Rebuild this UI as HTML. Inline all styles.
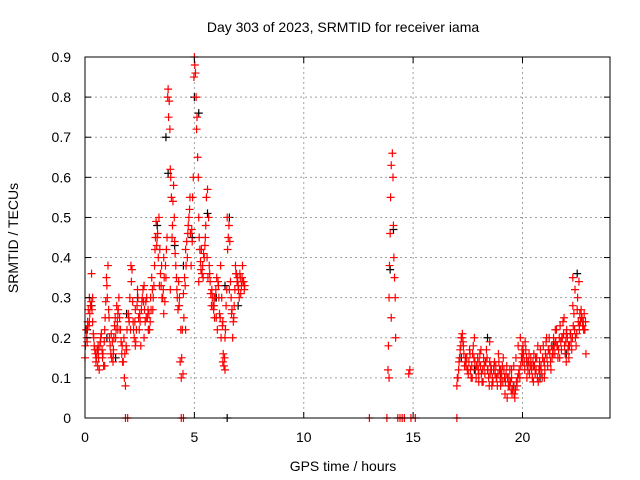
<!DOCTYPE html>
<html><head><meta charset="utf-8"><style>
body{margin:0;background:#fff;}
svg{display:block;font-family:"Liberation Sans",sans-serif;}
</style></head><body>
<svg id="chart" width="640" height="480" viewBox="0 0 640 480">
<rect width="640" height="480" fill="#fff"/>
<text x="343" y="32" font-size="14" text-anchor="middle">Day 303 of 2023, SRMTID for receiver iama</text>
<g id="grid"></g>
<g id="marks"></g>
<rect x="85" y="57" width="525" height="361" fill="none" stroke="#000" stroke-width="1"/>
<g id="axes"></g>
<text x="343" y="471" font-size="14" text-anchor="middle">GPS time / hours</text>
<text x="18" y="238" font-size="14" text-anchor="middle" transform="rotate(-90 18 238)">SRMTID / TECUs</text>
</svg>
<script>
const xTicks=[0,5,10,15,20];
const yTicks=[0,0.1,0.2,0.3,0.4,0.5,0.6,0.7,0.8,0.9];
const yTickLabels=["0","0.1","0.2","0.3","0.4","0.5","0.6","0.7","0.8","0.9"];
const blackT=[0.1,0.3,0.6,1.0,1.4,1.9,2.4,2.9,3.3,3.7,3.8,4.1,4.5,4.9,5.0,5.2,5.6,6.0,6.4,6.6,7.0,13.95,14.1,17.2,17.8,18.4,19.0,19.6,20.2,20.8,21.4,22.0,22.5,22.7,6.5];
const blackV=[0.22,0.28,0.17,0.2,0.15,0.26,0.3,0.22,0.48,0.7,0.61,0.43,0.38,0.45,0.8,0.76,0.51,0.3,0.33,0.5,0.28,0.37,0.47,0.15,0.12,0.2,0.1,0.08,0.14,0.1,0.18,0.16,0.36,0.25,0];
const redT=[0,0.05,0.1,0.15,0.2,0.25,0.3,0.35,0.4,0.45,0.5,0.6,0.65,0.7,0.75,0.8,0.85,0.9,1.0,1.05,1.1,1.15,1.2,1.3,1.35,1.4,1.45,1.5,1.6,1.7,1.75,1.8,1.85,1.9,2.0,2.05,2.1,2.2,2.25,2.3,2.4,2.5,2.55,2.6,2.7,2.8,2.9,3.0,3.05,3.1,3.2,3.25,3.3,3.35,3.4,3.5,3.55,3.6,3.7,3.75,3.8,3.85,3.9,3.95,4.0,4.05,4.1,4.15,4.2,4.3,4.35,4.4,4.45,4.5,4.55,4.6,4.7,4.75,4.8,4.85,4.9,4.95,5.0,5.05,5.1,5.15,5.2,5.25,5.3,5.4,5.45,5.5,5.6,5.65,5.7,5.8,5.85,5.9,6.0,6.05,6.1,6.2,6.25,6.3,6.4,6.45,6.5,6.55,6.6,6.7,6.75,6.8,6.9,7.0,7.05,7.1,7.2,7.25,7.3,
0.2,0.35,0.6,0.9,1.3,1.5,2.3,2.7,3.6,3.9,4.3,4.6,5.2,5.9,6.3,6.4,
13.85,13.87,13.9,13.92,13.95,13.97,14.0,14.05,14.08,14.1,14.12,14.15,14.18,14.2,14.8,14.85,13.9,14.0,
17.0,17.05,17.1,17.15,17.2,17.3,17.35,17.4,17.5,17.6,17.7,17.8,17.9,18.0,18.1,18.2,18.3,18.4,18.5,18.6,18.7,18.8,18.9,19.0,19.1,19.2,19.3,19.4,19.5,19.6,19.7,19.8,19.9,20.0,20.1,20.2,20.3,20.4,20.5,20.6,20.7,20.8,20.9,21.0,21.1,21.2,21.3,21.4,21.5,21.6,21.7,21.8,21.9,22.0,22.1,22.2,22.3,22.4,22.5,22.55,22.6,22.7,22.8,22.9,17.5,18.0,18.5,19.0,19.5,20.0,20.5,21.0,21.5,22.0,22.3,22.6,22.8,
1.85,1.95,4.4,4.5,13.0,13.8,14.3,14.4,14.5,14.6,14.9,15.1,17.0];
const redV=[0.15,0.22,0.19,0.27,0.3,0.28,0.36,0.24,0.2,0.17,0.14,0.16,0.12,0.19,0.21,0.15,0.13,0.22,0.33,0.38,0.25,0.18,0.21,0.16,0.23,0.2,0.28,0.26,0.22,0.18,0.14,0.1,0.08,0.17,0.25,0.3,0.38,0.24,0.2,0.27,0.32,0.26,0.18,0.29,0.33,0.25,0.22,0.3,0.35,0.27,0.42,0.49,0.45,0.4,0.33,0.38,0.3,0.26,0.35,0.45,0.82,0.79,0.62,0.55,0.48,0.58,0.44,0.38,0.32,0.28,0.14,0.1,0.22,0.31,0.35,0.42,0.46,0.5,0.55,0.38,0.44,0.6,0.9,0.86,0.72,0.65,0.5,0.42,0.37,0.35,0.4,0.45,0.57,0.5,0.36,0.32,0.28,0.3,0.25,0.22,0.33,0.38,0.3,0.14,0.12,0.28,0.5,0.45,0.32,0.26,0.2,0.25,0.36,0.33,0.3,0.35,0.38,0.34,0.33,
0.24,0.3,0.18,0.13,0.17,0.22,0.18,0.2,0.4,0.32,0.28,0.22,0.34,0.28,0.24,0.2,
0.12,0.18,0.3,0.38,0.46,0.55,0.63,0.66,0.6,0.48,0.4,0.35,0.3,0.2,0.11,0.12,0.1,0.25,
0.08,0.1,0.14,0.17,0.2,0.18,0.13,0.15,0.12,0.16,0.1,0.2,0.13,0.11,0.17,0.09,0.14,0.12,0.19,0.08,0.13,0.1,0.16,0.12,0.09,0.06,0.05,0.08,0.1,0.13,0.15,0.18,0.2,0.14,0.12,0.1,0.16,0.13,0.09,0.15,0.18,0.12,0.1,0.14,0.2,0.17,0.12,0.16,0.22,0.18,0.15,0.2,0.25,0.14,0.18,0.21,0.35,0.32,0.27,0.24,0.22,0.25,0.22,0.16,0.12,0.09,0.14,0.08,0.12,0.16,0.13,0.1,0.19,0.21,0.28,0.23,0.22,
0,0,0,0,0,0,0,0,0,0,0,0,0];
const redT2=[0.02,0.08,0.12,0.18,0.22,0.28,0.32,0.38,0.42,0.48,0.52,0.55,0.58,0.62,0.68,0.72,0.78,0.82,0.88,0.92,0.95,0.98,1.02,1.08,1.12,1.18,1.22,1.25,1.28,1.32,1.38,1.42,1.48,1.52,1.55,1.58,1.62,1.65,1.68,1.72,1.78,1.82,1.88,1.92,1.98,2.02,2.08,2.12,2.15,2.18,2.22,2.28,2.32,2.35,2.38,2.42,2.45,2.48,2.52,2.58,2.62,2.65,2.68,2.72,2.75,2.78,2.82,2.85,2.88,2.92,2.95,2.98,3.02,3.08,3.12,3.15,3.18,3.22,3.28,3.32,3.38,3.42,3.45,3.48,3.52,3.58,3.62,3.65,3.68,3.72,3.78,3.82,3.88,3.92,3.98,4.02,4.08,4.12,4.18,4.22,4.25,4.28,4.32,4.38,4.42,4.48,4.52,4.58,4.62,4.65,4.68,4.72,4.78,4.82,4.88,4.92,4.98,5.02,5.08,5.12,5.18,5.22,5.28,5.32,5.35,5.38,5.42,5.48,5.52,5.55,5.58,5.62,5.68,5.72,5.75,5.78,5.82,5.88,5.92,5.95,5.98,6.02,6.08,6.12,6.15,6.18,6.22,6.28,6.32,6.35,6.38,6.42,6.48,6.52,6.58,6.62,6.65,6.68,6.72,6.78,6.82,6.85,6.88,6.92,6.95,6.98,7.02,7.08,7.12,7.15,7.18,7.22,7.28,
17.02,17.08,17.12,17.18,17.22,17.25,17.28,17.32,17.38,17.42,17.45,17.48,17.52,17.55,17.58,17.62,17.65,17.68,17.72,17.75,17.78,17.82,17.85,17.88,17.92,17.95,17.98,18.02,18.05,18.08,18.12,18.15,18.18,18.22,18.25,18.28,18.32,18.35,18.38,18.42,18.45,18.48,18.52,18.55,18.58,18.62,18.65,18.68,18.72,18.75,18.78,18.82,18.85,18.88,18.92,18.95,18.98,19.02,19.05,19.08,19.12,19.15,19.18,19.22,19.25,19.28,19.32,19.35,19.38,19.42,19.45,19.48,19.52,19.55,19.58,19.62,19.65,19.68,19.72,19.75,19.78,19.82,19.85,19.88,19.92,19.95,19.98,20.02,20.05,20.08,20.12,20.15,20.18,20.22,20.25,20.28,20.32,20.35,20.38,20.42,20.45,20.48,20.52,20.55,20.58,20.62,20.65,20.68,20.72,20.75,20.78,20.82,20.85,20.88,20.92,20.95,20.98,21.02,21.05,21.08,21.12,21.15,21.18,21.22,21.25,21.28,21.32,21.35,21.38,21.42,21.45,21.48,21.52,21.55,21.58,21.62,21.65,21.68,21.72,21.75,21.78,21.82,21.85,21.88,21.92,21.95,21.98,22.02,22.05,22.08,22.12,22.15,22.18,22.22,22.25,22.28,22.32,22.35,22.38,22.42,22.45,22.48,22.52,22.58,22.62,22.65,22.68,22.72,22.75,22.78,22.82,22.85,22.88];
const redV2=[0.18,0.2,0.24,0.23,0.26,0.29,0.27,0.21,0.18,0.16,0.15,0.17,0.13,0.15,0.18,0.2,0.17,0.16,0.19,0.25,0.29,0.35,0.3,0.27,0.2,0.16,0.15,0.19,0.14,0.2,0.25,0.22,0.24,0.27,0.3,0.25,0.22,0.19,0.16,0.14,0.2,0.16,0.18,0.22,0.26,0.24,0.22,0.34,0.37,0.29,0.22,0.24,0.19,0.22,0.28,0.3,0.25,0.22,0.24,0.27,0.3,0.32,0.29,0.27,0.24,0.29,0.3,0.25,0.27,0.26,0.22,0.24,0.27,0.32,0.3,0.33,0.38,0.45,0.43,0.46,0.5,0.42,0.36,0.33,0.3,0.32,0.35,0.29,0.38,0.42,0.8,0.75,0.72,0.6,0.45,0.54,0.5,0.41,0.35,0.3,0.27,0.34,0.3,0.22,0.15,0.11,0.25,0.33,0.38,0.44,0.4,0.48,0.52,0.46,0.47,0.55,0.85,0.88,0.8,0.75,0.6,0.45,0.39,0.42,0.36,0.38,0.41,0.43,0.48,0.55,0.4,0.35,0.38,0.34,0.31,0.28,0.3,0.27,0.25,0.3,0.32,0.35,0.34,0.3,0.26,0.25,0.2,0.23,0.16,0.13,0.15,0.22,0.32,0.42,0.48,0.44,0.34,0.3,0.27,0.24,0.28,0.32,0.38,0.36,0.34,0.35,0.32,0.36,0.31,0.33,0.35,0.34,0.32,
0.1,0.12,0.15,0.18,0.2,0.21,0.19,0.16,0.14,0.13,0.15,0.12,0.11,0.14,0.17,0.12,0.1,0.13,0.16,0.18,0.15,0.14,0.12,0.1,0.13,0.15,0.12,0.14,0.16,0.13,0.11,0.09,0.12,0.15,0.13,0.11,0.14,0.17,0.15,0.12,0.1,0.08,0.11,0.13,0.12,0.1,0.09,0.12,0.14,0.11,0.13,0.1,0.08,0.11,0.14,0.12,0.1,0.09,0.11,0.13,0.15,0.12,0.1,0.09,0.11,0.13,0.1,0.08,0.1,0.12,0.09,0.07,0.06,0.07,0.08,0.06,0.05,0.07,0.09,0.08,0.1,0.11,0.12,0.1,0.13,0.15,0.17,0.18,0.16,0.14,0.19,0.17,0.15,0.13,0.12,0.14,0.11,0.13,0.15,0.12,0.1,0.14,0.16,0.13,0.11,0.12,0.15,0.1,0.09,0.12,0.14,0.17,0.13,0.11,0.15,0.18,0.14,0.12,0.16,0.19,0.15,0.13,0.17,0.2,0.16,0.14,0.18,0.15,0.17,0.2,0.18,0.16,0.19,0.22,0.18,0.15,0.17,0.2,0.23,0.19,0.17,0.2,0.24,0.21,0.18,0.16,0.19,0.22,0.2,0.17,0.15,0.18,0.21,0.19,0.17,0.2,0.23,0.26,0.22,0.2,0.18,0.21,0.3,0.34,0.26,0.24,0.27,0.25,0.23,0.24,0.26,0.22,0.24];
const X0=85,X1=610,Y0=418,Y1=57,XMAX=24,YMAX=0.9;
const xs=t=>X0+(t/XMAX)*(X1-X0);
const ys=v=>Y0-(v/YMAX)*(Y0-Y1);
const NS="http://www.w3.org/2000/svg";
function mk(tag,attrs,parent){const e=document.createElementNS(NS,tag);for(const k in attrs)e.setAttribute(k,attrs[k]);parent.appendChild(e);return e;}
const grid=document.getElementById('grid'),axes=document.getElementById('axes'),marks=document.getElementById('marks');
xTicks.forEach((t,i)=>{const x=xs(t);
 if(t>0){const g=mk('line',{x1:x,x2:x,y1:Y1,y2:Y0,stroke:'#a0a0a0','stroke-dasharray':'2,3'},grid);}
 const a=mk('line',{x1:x,x2:x,y1:Y0,y2:Y0-6,stroke:'#000'},axes);
 const b=mk('line',{x1:x,x2:x,y1:Y1,y2:Y1+6,stroke:'#000'},axes);
 const l=mk('text',{x:x,y:442,'font-size':14,'text-anchor':'middle'},axes);l.textContent=String(t);});
yTicks.forEach((v,i)=>{const y=ys(v);
 if(v>0&&v<YMAX){const g=mk('line',{x1:X0,x2:X1,y1:y,y2:y,stroke:'#a0a0a0','stroke-dasharray':'2,3'},grid);}
 const a=mk('line',{x1:X0,x2:X0+6,y1:y,y2:y,stroke:'#000'},axes);
 const b=mk('line',{x1:X1,x2:X1-6,y1:y,y2:y,stroke:'#000'},axes);
 const l=mk('text',{x:71,y:y+5,'font-size':14,'text-anchor':'end'},axes);l.textContent=yTickLabels[i];});
function plus(t,v,col,name){if(v===undefined||t===undefined)return;const x=xs(t),y=ys(v);
 const p=mk('path',{d:`M${x-4} ${y}H${x+4}M${x} ${y-4}V${y+4}`,stroke:col,'stroke-width':1.2,fill:'none'},marks);
 
 }
blackT.forEach((t,i)=>plus(t,blackV[i],'#000','black-point'));
redT.forEach((t,i)=>plus(t,redV[i],'#f00','red-point'));
redT2.forEach((t,i)=>plus(t,redV2[i],'#f00','red-point'));
</script>
</body></html>
